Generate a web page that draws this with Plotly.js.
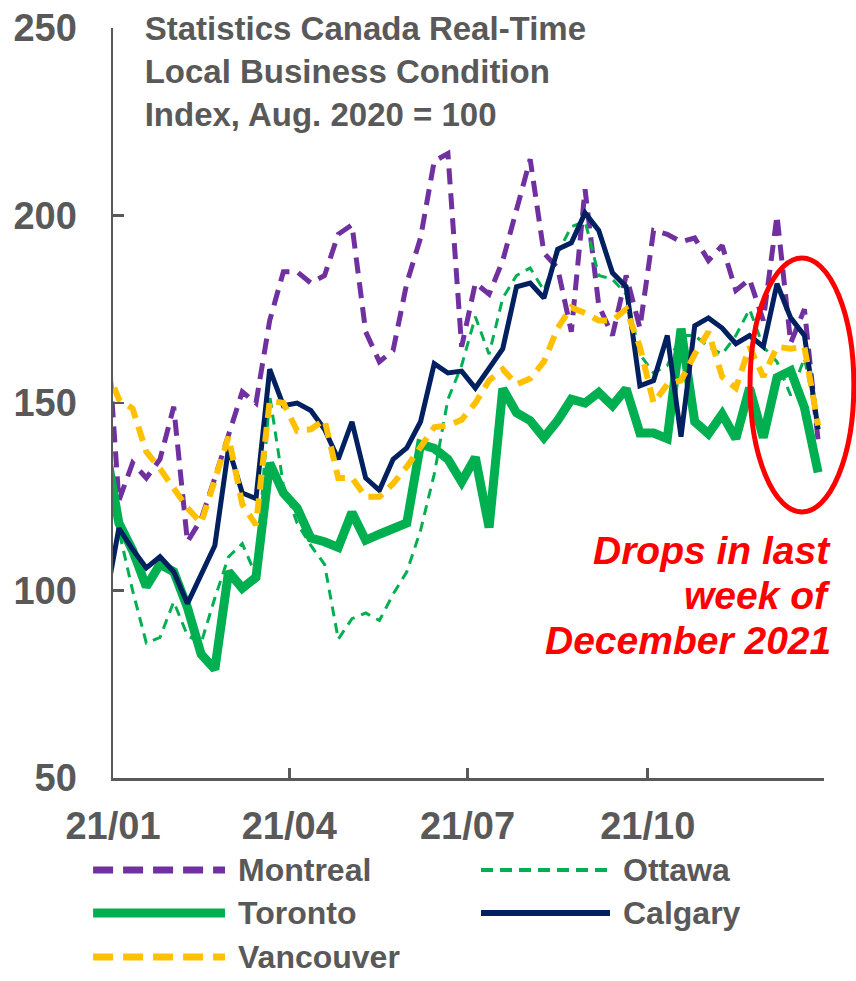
<!DOCTYPE html>
<html><head><meta charset="utf-8">
<script src="https://cdn.plot.ly/plotly-3.0.1.min.js"></script>
<style>html,body{margin:0;padding:0;background:#fff;}#chart{width:856px;height:981px;}</style>
</head><body><div id="chart"></div>
<script>
// Weekly observations (first one falls just before the axis start and is clipped)
const weeks = ['2020-12-28','2021-01-04','2021-01-11','2021-01-18','2021-01-25','2021-02-01','2021-02-08','2021-02-15','2021-02-22','2021-03-01','2021-03-08','2021-03-15','2021-03-22','2021-03-29','2021-04-05','2021-04-12','2021-04-19','2021-04-26','2021-05-03','2021-05-10','2021-05-17','2021-05-24','2021-05-31','2021-06-07','2021-06-14','2021-06-21','2021-06-28','2021-07-05','2021-07-12','2021-07-19','2021-07-26','2021-08-02','2021-08-09','2021-08-16','2021-08-23','2021-08-30','2021-09-06','2021-09-13','2021-09-20','2021-09-27','2021-10-04','2021-10-11','2021-10-18','2021-10-25','2021-11-01','2021-11-08','2021-11-15','2021-11-22','2021-11-29','2021-12-06','2021-12-13','2021-12-20','2021-12-27'];

const montreal = [177,124,134,130,135,149,113,119,130,141,153,150,172,185,185,182,184,195,197.5,169,161,164,182,194,214.5,216.5,165,182,179,188,201,215,190,186,169,207,176,168,184,170,196,195,193,194,188,192,180,183,172,200,166,175,140];
const ottawa   = [128,116,100,86,87.5,97,88,86,98,109,112.5,104,152,128,118,112,107,87,92.5,94,92,99,105,116,131,151,160,173,163,178,184,186,180,190,197,198.5,184,183,179,163,158,160,168,168,165,163,168,175,165,161,152,162,144];
const toronto  = [139,118,110.7,101,107,105,95.5,83,79,105,100.6,103.5,134,126,122,114,113,111.5,120.8,113.4,115,116.5,118,139,137.9,135,129,135.5,116.8,153.8,147.4,145.3,140.8,145.3,151,150,152.8,149.3,153.8,142,142,140.5,169.8,145,141.8,147,140.5,154,140.8,156.8,158.6,148.8,131.5];
const calgary  = [96.5,116.6,111,106,109,105,96.5,104,112,138,126,124.5,159,149.3,150,148,143,135,145,130,126.7,135,138,145,160.5,158,158.5,154,159,164.5,181,182,178,191,192.7,200.7,196,184.7,181,154.6,156,168,141,170.6,172.7,170,165.8,168,165,181.8,172.7,168,143];
const vancouver= [160,151,148.5,137,132.5,127.5,122,118,129,141,123,117.5,150.6,150,142.6,143,145.5,130,130,125,125,128.5,133,138,143.5,144,145.5,150,156,159,155,156.5,161,170,175.5,174,172,172,175,165,150,155,156,163,169,157,154,165,157,165,164.5,165,144];

const seriesNames  = ['Montreal','Ottawa','Toronto','Calgary','Vancouver'];
const seriesValues = [montreal, ottawa, toronto, calgary, vancouver];
const seriesColors = ['#7030A0','#00B050','#00B050','#002060','#FFC000'];
const seriesWidths = [5, 3, 9, 5, 6];
const seriesDash   = ['16px,9px','10px,7px','solid','solid','15px,9px'];
const legendWidths = [7, 4, 9, 6, 7];
const legendDash   = ['20px,10px','12px,7px','solid','solid','20px,10px'];

const titleText = 'Statistics Canada Real-Time<br>Local Business Condition<br>Index, Aug. 2020 = 100';
const noteLines = ['Drops in last','week of','December 2021'];

const FONT = 'Liberation Sans, Arial, sans-serif';
const GREY = '#595959';

const traces = seriesNames.map((n, k) => ({
  type: 'scatter', mode: 'lines', name: n,
  x: weeks, y: seriesValues[k],
  line: {color: seriesColors[k], width: seriesWidths[k], dash: seriesDash[k]},
  showlegend: false, hoverinfo: 'x+y+name'
}));

// custom legend (long line samples like the original)
const shapes = [];
const annotations = [];
const legCols = [{x0: -0.028, x1: 0.1575, tx: 0.173}, {x0: 0.5176, x1: 0.699, tx: 0.7145}];
const legRows = [-0.1227, -0.18, -0.2387];
seriesNames.forEach((n, k) => {
  const c = legCols[k % 2], r = legRows[Math.floor(k / 2)];
  shapes.push({type: 'line', xref: 'paper', yref: 'paper', x0: c.x0, x1: c.x1, y0: r, y1: r,
    line: {color: seriesColors[k], width: legendWidths[k], dash: legendDash[k]}});
  annotations.push({xref: 'paper', yref: 'paper', x: c.tx, y: r, xanchor: 'left', yanchor: 'middle',
    text: n, showarrow: false, font: {family: FONT, size: 32, color: GREY, weight: 700}});
});

// red ellipse highlighting the last weeks
shapes.push({type: 'circle', xref: 'paper', yref: 'paper', x0: 0.896, x1: 1.042, y0: 0.3547, y1: 0.6933,
  line: {color: '#FF0000', width: 5}, fillcolor: 'rgba(0,0,0,0)'});

const noteY = [0.304, 0.244, 0.184];
noteLines.forEach((t, i) => {
  annotations.push({xref: 'paper', yref: 'paper', x: 1.0127, y: noteY[i], xanchor: 'right', yanchor: 'middle',
    text: t, showarrow: false, font: {family: FONT, size: 39, color: '#FF0000', weight: 700, style: 'italic'}});
});

const layout = {
  width: 856, height: 981,
  margin: {l: 113, r: 32, t: 28, b: 203},
  paper_bgcolor: '#ffffff', plot_bgcolor: '#ffffff',
  font: {family: FONT, color: GREY},
  title: {text: titleText, xref: 'container', yref: 'container', x: 0.169, xanchor: 'left', y: 0.959, yanchor: 'top',
    font: {family: FONT, size: 33, color: GREY, weight: 700}},
  xaxis: {type: 'date', range: ['2021-01-01', '2021-12-30'], tick0: '2021-01-01', dtick: 'M3', tickformat: '%y/%m',
    showgrid: false, zeroline: false, showline: true, linecolor: GREY, linewidth: 2.5,
    ticks: 'inside', ticklen: 10, tickwidth: 2.5, tickcolor: GREY, ticklabelstandoff: 13,
    tickfont: {family: FONT, size: 38, color: GREY, weight: 700}},
  yaxis: {range: [50, 250], dtick: 50, tick0: 50, showgrid: false, zeroline: false, showline: true,
    linecolor: GREY, linewidth: 2.5, ticks: 'inside', ticklen: 11, tickwidth: 2.5, tickcolor: GREY,
    ticklabelstandoff: 26, tickfont: {family: FONT, size: 38, color: GREY, weight: 700}},
  shapes: shapes,
  annotations: annotations,
  showlegend: false
};

Plotly.newPlot('chart', traces, layout, {displayModeBar: false, staticPlot: true});
</script></body></html>
